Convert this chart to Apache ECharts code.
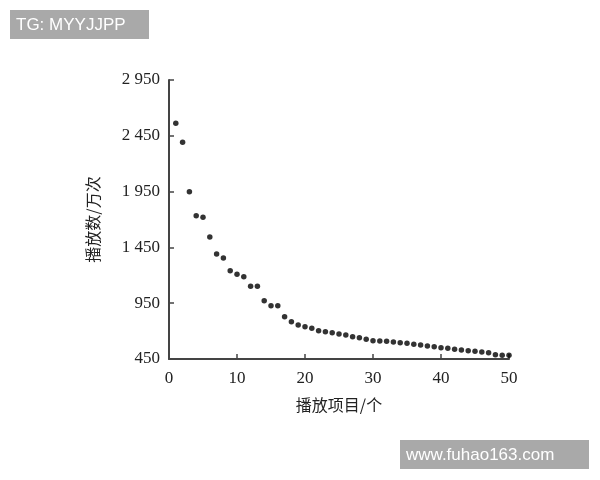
<!DOCTYPE html>
<html>
<head>
<meta charset="utf-8">
<script src="https://cdn.jsdelivr.net/npm/echarts@6/dist/echarts.min.js"></script>
<style>
  html, body { margin: 0; padding: 0; background: #fff; }
  #main { width: 600px; height: 480px; }
</style>
</head>
<body>
<div id="main"></div>
<script>
// 播放项目序号 1..50
var items = [];
for (var i = 1; i <= 50; i++) items.push(i);

// 播放数/万次
var plays = [
  2562, 2392, 1949, 1734, 1720, 1543, 1391, 1355, 1241, 1209,
  1188, 1101, 1101, 973, 928, 928, 829, 784, 755, 739,
  725, 704, 695, 686, 674, 665, 650, 641, 626, 614,
  611, 608, 602, 596, 591, 582, 575, 566, 560, 551,
  546, 537, 531, 525, 519, 513, 507, 489, 483, 483
];

var yTicks = [450, 950, 1450, 1950, 2450, 2950];

var points = items.map(function (x, k) { return [x, plays[k]]; });

var serif = '"Liberation Serif", "Noto Sans CJK SC", serif';
var cjk = '"Noto Sans CJK SC", "Liberation Serif", serif';

var myChart = echarts.init(document.getElementById('main'));
var option = {
    backgroundColor: '#fff',
    animation: false,
    grid: { left: 169, right: 91, top: 80, bottom: 121 },
    xAxis: {
        type: 'value',
        min: 0,
        max: 50,
        interval: 10,
        name: '播放项目/个',
        nameLocation: 'middle',
        nameGap: 38,
        nameTextStyle: { fontFamily: cjk, fontSize: 16, color: '#222' },
        axisLine: { lineStyle: { color: '#444', width: 2 } },
        axisTick: { inside: true, length: 5, lineStyle: { color: '#444', width: 1.5 } },
        axisLabel: { fontFamily: serif, fontSize: 17, color: '#222', margin: 11 },
        splitLine: { show: false }
    },
    yAxis: {
        type: 'value',
        min: yTicks[0],
        max: yTicks[yTicks.length - 1],
        interval: 500,
        name: '播放数/万次',
        nameLocation: 'middle',
        nameGap: 68,
        nameRotate: 90,
        nameTextStyle: { fontFamily: cjk, fontSize: 16, color: '#222' },
        axisLine: { show: true, lineStyle: { color: '#444', width: 2 } },
        axisTick: { show: true, inside: true, length: 5, lineStyle: { color: '#444', width: 1.5 } },
        axisLabel: {
            fontFamily: serif, fontSize: 17, color: '#222', margin: 9,
            formatter: function (v) {
                return v >= 1000 ? Math.floor(v / 1000) + ' ' + String(v % 1000).padStart(3, '0') : String(v);
            }
        },
        splitLine: { show: false }
    },
    series: [{
        type: 'scatter',
        data: points,
        symbol: 'circle',
        symbolSize: 5.5,
        itemStyle: { color: '#000' }
    }],
    graphic: [
        {
            type: 'group', left: 10, top: 10,
            children: [
                { type: 'rect', shape: { x: 0, y: 0, width: 139, height: 29 }, style: { fill: '#a9a9a9' } },
                { type: 'text', x: 6, y: 15, style: { text: 'TG: MYYJJPP', fill: '#fff', font: '17px "Liberation Sans", Arial, sans-serif', verticalAlign: 'middle' } }
            ]
        },
        {
            type: 'group', left: 400, top: 440,
            children: [
                { type: 'rect', shape: { x: 0, y: 0, width: 189, height: 29 }, style: { fill: '#a9a9a9' } },
                { type: 'text', x: 6, y: 15, style: { text: 'www.fuhao163.com', fill: '#fff', font: '17px "Liberation Sans", Arial, sans-serif', verticalAlign: 'middle' } }
            ]
        }
    ]
};
myChart.setOption(option);
</script>
</body>
</html>
